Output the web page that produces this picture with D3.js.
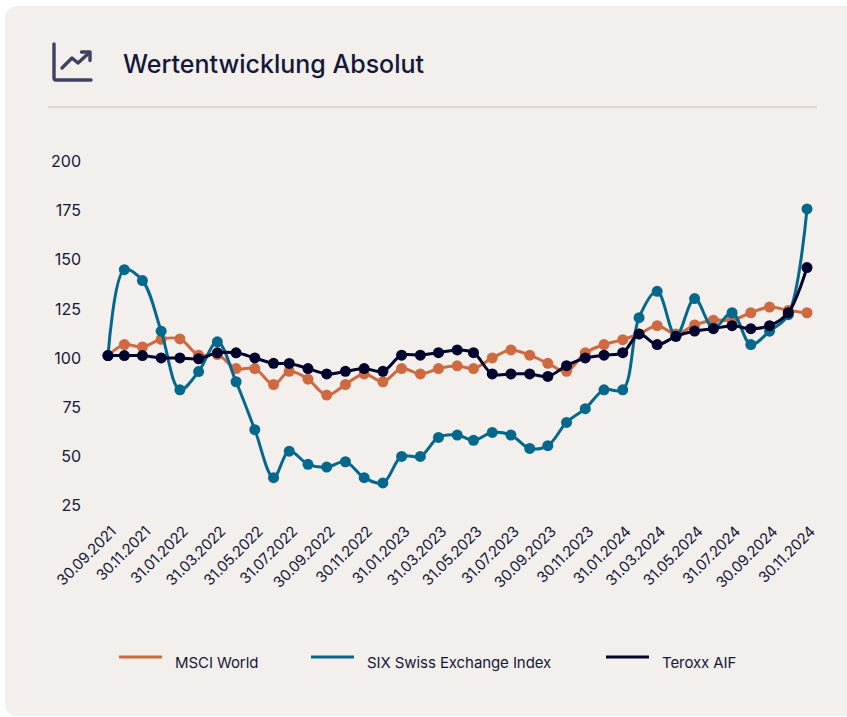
<!DOCTYPE html>
<html>
<head>
<meta charset="utf-8">
<script src="https://cdn.jsdelivr.net/npm/d3@7"></script>
<style>
  html, body { margin: 0; padding: 0; background: #fff; }
  svg { display: block; font-family: Inter, sans-serif; }
</style>
</head>
<body>
<script>
// Chart data
const dates = [
  "30.09.2021","31.10.2021","30.11.2021","31.12.2021","31.01.2022","28.02.2022","31.03.2022","30.04.2022",
  "31.05.2022","30.06.2022","31.07.2022","31.08.2022","30.09.2022","31.10.2022","30.11.2022","31.12.2022",
  "31.01.2023","28.02.2023","31.03.2023","30.04.2023","31.05.2023","30.06.2023","31.07.2023","31.08.2023",
  "30.09.2023","31.10.2023","30.11.2023","31.12.2023","31.01.2024","29.02.2024","31.03.2024","30.04.2024",
  "31.05.2024","30.06.2024","31.07.2024","31.08.2024","30.09.2024","31.10.2024","30.11.2024"
];
// Days since the first point, the spacing on the axis is not quite even
const pointDays = [0,27,57,88,119,150,181,212,243,274,300,331,362,393,424,455,486,517,547,578,605,636,667,698,728,759,790,821,852,879,909,940,971,1002,1033,1064,1095,1126,1157];
const msciWorld = [101,106.6,105.4,109.3,109.5,101.2,101.5,94.4,94.4,86.3,93,89,80.9,86.3,91.7,87.7,94.4,91.7,94.4,95.8,94.4,99.8,103.9,101.2,97.1,93,102.4,106.6,109.1,112,116.2,112,116.6,119,119,122.8,125.7,124,122.8];
const sixSwiss = [101,144.7,139.2,113.4,83.6,92.9,108,87.7,63.3,38.9,52.4,45.7,44.3,47,38.9,36.2,49.7,49.7,59.4,60.6,57.9,61.9,60.6,53.8,55.2,67,74,83.6,83.6,120.3,133.7,110.8,130,115,122.8,106.6,113.4,121.8,175.6];
const teroxx = [101,101,101,99.8,99.8,99.4,102.4,102.4,99.8,97.1,97,94.4,91.7,93,94.4,93,101.2,101.2,102.5,103.9,102.5,91.7,91.7,91.7,90.4,95.9,99.8,101.2,102.5,112,106.6,110.8,113.5,114.7,116.2,114.7,116.2,122.8,145.8];
const yTicks = [25,50,75,100,125,150,175,200];

const seriesNames = ["MSCI World","SIX Swiss Exchange Index","Teroxx AIF"];
const seriesValues = [msciWorld, sixSwiss, teroxx];
const seriesColours = ["#cf6a40","#04688c","#00032e"];

const width = 847, height = 717;
const ink = "#14183a";

const x = d3.scaleLinear().domain([0, 1157]).range([108, 807]);
const y = d3.scaleLinear().domain([25, 200]).range([505, 161]);

const svg = d3.select("body").append("svg")
  .attr("width", width)
  .attr("height", height);

// Card
svg.append("rect")
  .attr("x", 5).attr("y", 6)
  .attr("width", 860).attr("height", 710)
  .attr("rx", 12)
  .attr("fill", "#f3efec");

// Header icon
const icon = svg.append("g")
  .attr("fill", "none")
  .attr("stroke", "#3f4160")
  .attr("stroke-width", 3.4)
  .attr("stroke-linecap", "round")
  .attr("stroke-linejoin", "round");
icon.append("path").attr("d", "M54 44V78Q54 80 56 80H91");
icon.append("path").attr("d", "M62 68L72 58L78 63L89.5 52.5");
icon.append("path").attr("d", "M81.5 52H90V60.5");

svg.append("text")
  .attr("x", 123).attr("y", 72.5)
  .attr("font-size", 25)
  .attr("font-weight", 500)
  .attr("fill", ink)
  .text("Wertentwicklung Absolut");

svg.append("line")
  .attr("x1", 48).attr("x2", 817)
  .attr("y1", 107).attr("y2", 107)
  .attr("stroke", "#d6d0ca")
  .attr("stroke-width", 1.5);

// Y axis
const yAxis = svg.append("g")
  .attr("transform", "translate(81, 0.5)")
  .call(d3.axisLeft(y).tickValues(yTicks).tickSize(0).tickPadding(0));
yAxis.select(".domain").remove();
yAxis.selectAll("text")
  .attr("font-family", "Inter, sans-serif")
  .attr("font-size", 16)
  .attr("fill", ink);

// X axis, labels on every second month
const xAxis = svg.append("g")
  .attr("transform", "translate(0, 520)")
  .call(d3.axisBottom(x)
    .tickValues(pointDays.filter((d, i) => i % 2 === 0))
    .tickFormat(d => dates[pointDays.indexOf(d)])
    .tickSize(0).tickPadding(0));
xAxis.select(".domain").remove();
xAxis.selectAll("text")
  .attr("font-family", "Inter, sans-serif")
  .attr("font-size", 15)
  .attr("letter-spacing", -0.25)
  .attr("fill", ink)
  .attr("text-anchor", "end")
  .attr("dy", 0)
  .attr("transform", "translate(8.5, 12.5) rotate(-45)");

// Lines and dots
const line = d3.line()
  .x((d, i) => x(pointDays[i]))
  .y(d => y(d))
  .curve(d3.curveCatmullRom.alpha(0.5));

seriesValues.forEach((values, s) => {
  const g = svg.append("g");
  g.append("path")
    .datum(values)
    .attr("fill", "none")
    .attr("stroke", seriesColours[s])
    .attr("stroke-width", 3)
    .attr("d", line);
  g.selectAll("circle")
    .data(values)
    .enter()
    .append("circle")
    .attr("cx", (d, i) => x(pointDays[i]))
    .attr("cy", d => y(d))
    .attr("r", 5.5)
    .attr("fill", seriesColours[s]);
});

// Legend
const legendX = [119, 311, 606];
const legend = svg.selectAll(".legend")
  .data(seriesNames)
  .enter()
  .append("g")
  .attr("class", "legend")
  .attr("transform", (d, i) => `translate(${legendX[i]}, 657)`);
legend.append("line")
  .attr("x1", 0).attr("x2", 43)
  .attr("stroke", (d, i) => seriesColours[i])
  .attr("stroke-width", 3);
legend.append("text")
  .attr("x", 56).attr("y", 10.5)
  .attr("font-size", 15)
  .attr("letter-spacing", -0.08)
  .attr("fill", ink)
  .text(d => d);
</script>
</body>
</html>
